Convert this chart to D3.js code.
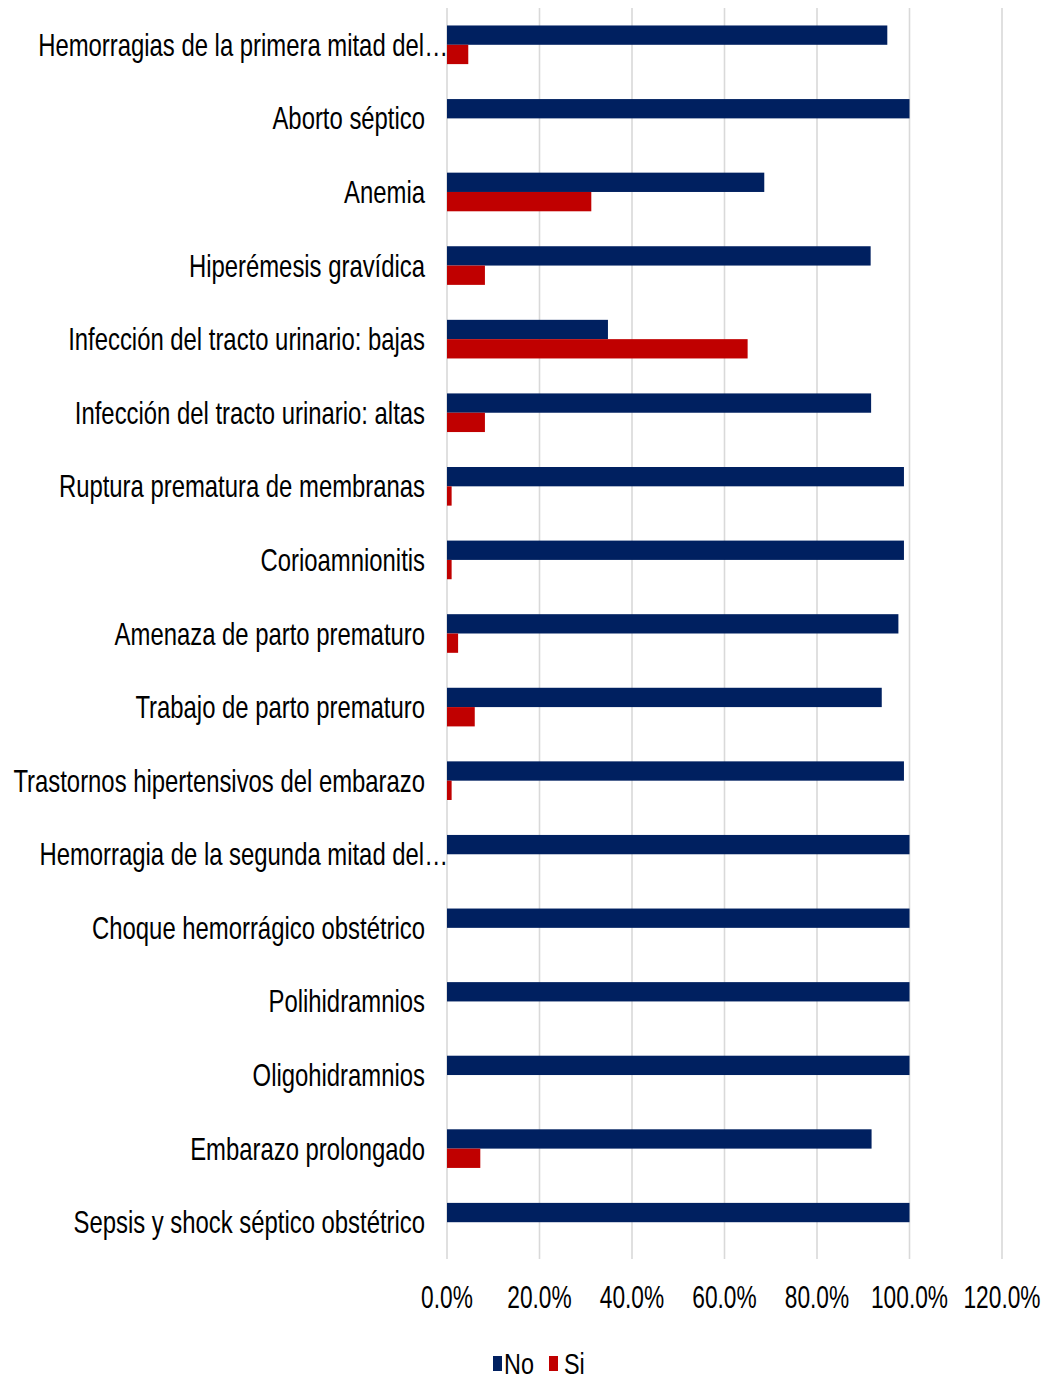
<!DOCTYPE html>
<html>
<head>
<meta charset="utf-8">
<script src="https://cdn.jsdelivr.net/npm/d3@7"></script>
<style>
  html, body { margin: 0; padding: 0; background: #ffffff; }
  svg { display: block; }
</style>
</head>
<body>
<svg id="chart" width="1052" height="1382"></svg>
<script>
const categories = [
  "Hemorragias de la primera mitad del…",
  "Aborto séptico",
  "Anemia",
  "Hiperémesis gravídica",
  "Infección del tracto urinario: bajas",
  "Infección del tracto urinario: altas",
  "Ruptura prematura de membranas",
  "Corioamnionitis",
  "Amenaza de parto prematuro",
  "Trabajo de parto prematuro",
  "Trastornos hipertensivos del embarazo",
  "Hemorragia de la segunda mitad del…",
  "Choque hemorrágico obstétrico",
  "Polihidramnios",
  "Oligohidramnios",
  "Embarazo prolongado",
  "Sepsis y shock séptico obstétrico"
];
const seriesNames = ["No", "Si"];
const valuesNo = [95.2, 100, 68.6, 91.6, 34.8, 91.7, 98.8, 98.8, 97.6, 94.0, 98.8, 100, 100, 100, 100, 91.8, 100];
const valuesSi = [4.6, 0, 31.2, 8.2, 65.0, 8.2, 1.0, 1.0, 2.4, 6.0, 1.0, 0, 0, 0, 0, 7.2, 0];
const tickValues = [0, 20, 40, 60, 80, 100, 120];
const tickLabels = ["0.0%", "20.0%", "40.0%", "60.0%", "80.0%", "100.0%", "120.0%"];
const colors = { No: "#002060", Si: "#C00000" };

const svg = d3.select("#chart");
const plot = { left: 447, right: 1002, top: 8, bottom: 1259 };
const FONT = "'Liberation Sans', Arial, Helvetica, sans-serif";

const x = d3.scaleLinear().domain([0, 120]).range([plot.left, plot.right]);
const y = d3.scaleBand().domain(categories).range([plot.top, plot.bottom])
  .paddingInner(0.475).paddingOuter(0.2375);
const ySub = d3.scaleBand().domain(seriesNames).range([0, y.bandwidth()]).padding(0);

// gridlines
svg.append("g").selectAll("line").data(tickValues).join("line")
  .attr("x1", d => x(d)).attr("x2", d => x(d))
  .attr("y1", plot.top).attr("y2", plot.bottom)
  .attr("stroke", "#d9d9d9").attr("stroke-width", 1.6);

// bars
const rows = categories.map((c, i) => ({ cat: c, No: valuesNo[i], Si: valuesSi[i] }));
const groups = svg.append("g").selectAll("g").data(rows).join("g")
  .attr("transform", d => `translate(0,${y(d.cat)})`);
groups.selectAll("rect").data(d => seriesNames.map(s => ({ s, v: d[s] }))).join("rect")
  .attr("x", x(0))
  .attr("y", d => ySub(d.s))
  .attr("width", d => Math.max(0, x(d.v) - x(0)))
  .attr("height", ySub.bandwidth())
  .attr("fill", d => colors[d.s]);

// category labels
const labelSize = 31, labelScale = 0.77;
svg.append("g").selectAll("text").data(categories).join("text")
  .attr("transform", d => {
    const xx = d.endsWith("…") ? plot.left + 1 : plot.left - 22;
    const yy = y(d) + y.bandwidth() / 2 + 11;
    return `translate(${xx},${yy}) scale(${labelScale},1)`;
  })
  .attr("text-anchor", "end")
  .attr("font-family", FONT)
  .attr("font-size", labelSize)
  .attr("fill", "#000")
  .text(d => d);

// x tick labels
svg.append("g").selectAll("text").data(tickValues).join("text")
  .attr("transform", (d) => `translate(${x(d)},1308) scale(0.71,1)`)
  .attr("text-anchor", "middle")
  .attr("font-family", FONT)
  .attr("font-size", 32)
  .attr("fill", "#000")
  .text((d, i) => tickLabels[i]);

// legend
const legend = svg.append("g");
const legendItems = [
  { s: "No", rx: 493, tx: 504 },
  { s: "Si", rx: 549, tx: 564 }
];
legendItems.forEach(it => {
  legend.append("rect").attr("x", it.rx).attr("y", 1356).attr("width", 9).attr("height", 15)
    .attr("fill", colors[it.s]);
  legend.append("text")
    .attr("transform", `translate(${it.tx},1374) scale(0.78,1)`)
    .attr("font-family", FONT).attr("font-size", 30).attr("fill", "#000")
    .text(it.s);
});
</script>
</body>
</html>
